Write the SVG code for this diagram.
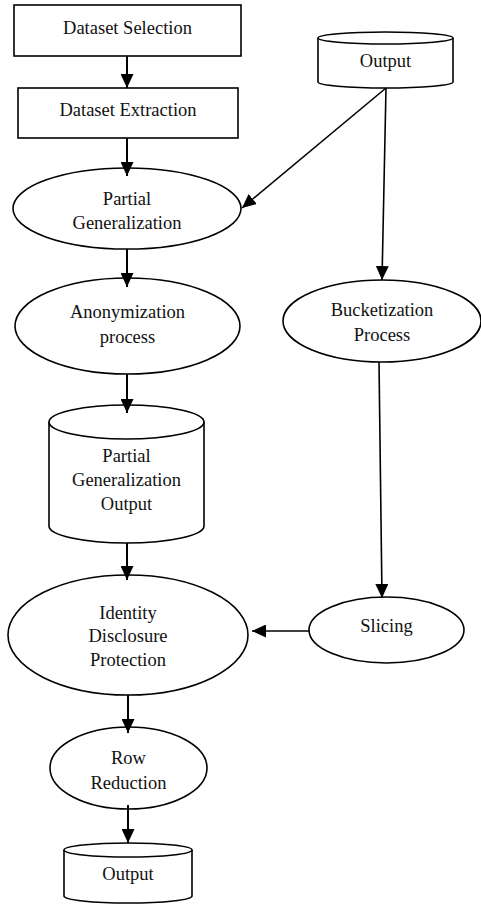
<svg xmlns="http://www.w3.org/2000/svg" width="481" height="904" viewBox="0 0 481 904">
<style>
.s{fill:#fff;stroke:#000;stroke-width:1.6}
.t{font-family:"Liberation Serif","Times New Roman",serif;font-size:18.5px;fill:#111;text-anchor:middle}
.c line{stroke:#000;stroke-width:2;marker-end:url(#a)}
.c .d{stroke-width:1.6}
</style>
<defs>
<marker id="a" markerUnits="userSpaceOnUse" markerWidth="15" markerHeight="13" refX="14" refY="6.5" orient="auto">
<path d="M0,0 L14,6.5 L0,13 z" fill="#000"/>
</marker>
</defs>
<g id="n1"><rect class="s" x="14" y="5" width="227" height="51"/><text class="t" x="127.5" y="34">Dataset Selection</text></g>
<g id="n2"><rect class="s" x="18" y="88" width="220" height="50"/><text class="t" x="128" y="116">Dataset Extraction</text></g>
<g id="n3"><ellipse class="s" cx="127" cy="208.5" rx="114" ry="40.5"/><text class="t" x="127" y="205">Partial</text><text class="t" x="127" y="229">Generalization</text></g>
<g id="n4"><ellipse class="s" cx="127.5" cy="326" rx="112.5" ry="48"/><text class="t" x="127.5" y="318">Anonymization</text><text class="t" x="127.5" y="343">process</text></g>
<g id="n5"><path class="s" d="M49,422 A77.5,17 0 0,1 204,422 L204,526 A77.5,17 0 0,1 49,526 Z"/><path class="s" fill="none" d="M49,422 A77.5,17 0 0,0 204,422"/><text class="t" x="126.5" y="462">Partial</text><text class="t" x="126.5" y="486">Generalization</text><text class="t" x="126.5" y="510">Output</text></g>
<g id="n6"><ellipse class="s" cx="128" cy="635" rx="120" ry="60"/><text class="t" x="128" y="619">Identity</text><text class="t" x="128" y="642">Disclosure</text><text class="t" x="128" y="666">Protection</text></g>
<g id="n7"><ellipse class="s" cx="128.5" cy="768" rx="78.5" ry="41"/><text class="t" x="128.5" y="764">Row</text><text class="t" x="128.5" y="789">Reduction</text></g>
<g id="n8"><path class="s" d="M64,850 A64,7 0 0,1 192,850 L192,896 A64,7 0 0,1 64,896 Z"/><path class="s" fill="none" d="M64,850 A64,7 0 0,0 192,850"/><text class="t" x="128" y="880">Output</text></g>
<g id="n9"><path class="s" d="M318,38 A67.5,6 0 0,1 453,38 L453,82 A67.5,6 0 0,1 318,82 Z"/><path class="s" fill="none" d="M318,38 A67.5,6 0 0,0 453,38"/><text class="t" x="385.5" y="67">Output</text></g>
<g id="n10"><ellipse class="s" cx="382" cy="321" rx="99" ry="41"/><text class="t" x="382" y="316">Bucketization</text><text class="t" x="382" y="341">Process</text></g>
<g id="n11"><ellipse class="s" cx="386.5" cy="630" rx="77.5" ry="33"/><text class="t" x="386.5" y="632">Slicing</text></g>
<g id="connectors" class="c">
<line x1="127" y1="56" x2="127" y2="88"/>
<line x1="127" y1="138" x2="127" y2="176"/>
<line x1="127" y1="249" x2="127" y2="287"/>
<line x1="127" y1="374" x2="127" y2="413"/>
<line x1="127" y1="543" x2="127" y2="580"/>
<line x1="128" y1="695" x2="128" y2="733"/>
<line x1="128" y1="805" x2="128" y2="843"/>
<line class="d" x1="386" y1="88" x2="242" y2="208"/>
<line class="d" x1="386" y1="88" x2="382" y2="280"/>
<line class="d" x1="379" y1="362" x2="382" y2="598"/>
<line class="d" x1="309" y1="631" x2="252" y2="631"/>
</g>
</svg>
